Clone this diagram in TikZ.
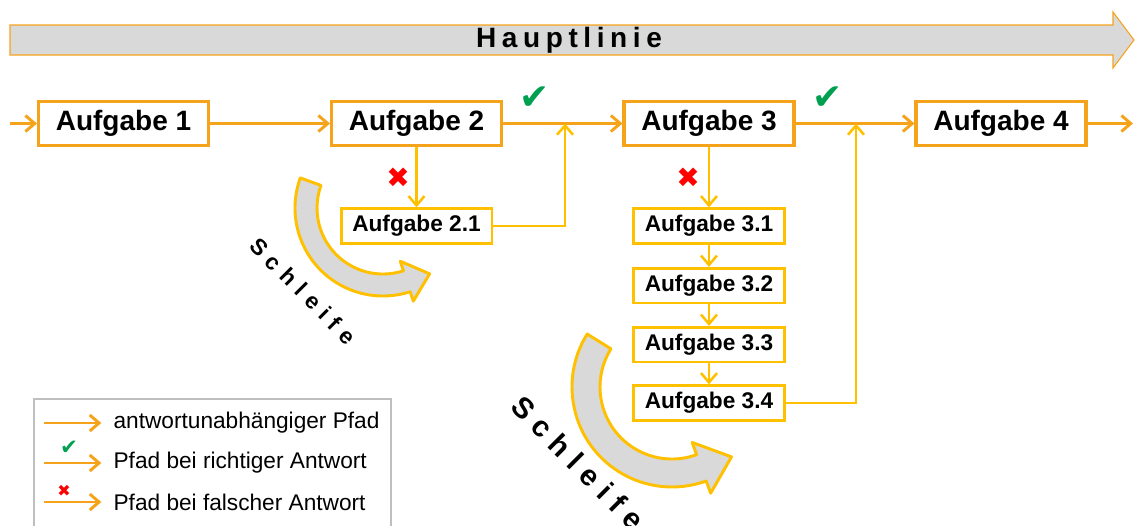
\documentclass[tikz,border=0pt]{standalone}
\usepackage{fontspec}
\setmainfont{Liberation Sans}
\newfontfamily\symfont{DejaVu Sans}
\usepackage{tikz}
\usetikzlibrary{arrows.meta,positioning,calc}
\definecolor{cOr}{HTML}{F4A31B}
\definecolor{cYe}{HTML}{FFC000}
\definecolor{cGy}{HTML}{D9D9D9}
\definecolor{cFr}{HTML}{BFBFBF}
\definecolor{cOk}{HTML}{00A050}
\definecolor{cNo}{HTML}{FF0000}
\definecolor{cInk}{HTML}{000000}

\begin{document}
\begin{tikzpicture}[x=0.75pt,y=-0.75pt,
  >={Straight Barb[length=7pt,width=12pt]},
  mainbox/.style={rectangle, draw=cOr, line width=2.3pt, fill=white, minimum width=127.5pt,
     minimum height=33pt, inner sep=0pt, text=cInk, font=\fontsize{21}{25}\selectfont\bfseries},
  subbox/.style={rectangle, draw=cYe, line width=2pt, fill=white, minimum width=113pt,
     minimum height=26pt, inner sep=0pt, text=cInk, font=\fontsize{17}{20}\selectfont\bfseries},
  flow/.style={->, line width=2.2pt, draw=cOr},
  subflow/.style={->, line width=1.9pt, draw=cYe},
  bendarrow/.style={fill=cGy, draw=cYe, line width=2.2pt, line join=round},
  tickmark/.style={font=\symfont\fontsize{27}{27}\selectfont, text=cOk, inner sep=0pt},
  crossmark/.style={font=\symfont\fontsize{21}{21}\selectfont, text=cNo, inner sep=0pt},
  legtext/.style={font=\fontsize{17}{20}\selectfont, text=cInk, anchor=west, inner sep=4pt},
]
\useasboundingbox (0,0) rectangle (1135,525);

% =================== MAIN LINE ===================
\path[fill=cGy, draw=cOr, line width=0.8pt] (10,25) -- (1113,25) -- (1113,12) -- (1134,40)
  -- (1113,68) -- (1113,55) -- (10,55) -- cycle;
\node[font=\bfseries\fontsize{21}{24}\selectfont\addfontfeature{LetterSpace=20}, text=cInk] (haupt) at (569,40) {Hauptlinie};

% =================== LOOPS ===================
\coordinate (c1) at (383,208);
\path[bendarrow] ($(c1)+(200:88)$) arc[start angle=200, end angle=72, radius=88]
  -- ($(c1)+(72:98)$) -- ($(c1)+(72:77)+(-18:24)$) -- ($(c1)+(72:56)$)
  -- ($(c1)+(72:66)$) arc[start angle=72, end angle=200, radius=66] -- cycle;
\node[font=\bfseries\fontsize{17}{18}\selectfont\addfontfeature{LetterSpace=33}, text=cInk, rotate=-45] (s1) at (303,291) {Schleife};

\coordinate (c2) at (672,387);
\path[bendarrow] ($(c2)+(212:100)$) arc[start angle=212, end angle=70, radius=100]
  -- ($(c2)+(70:113)$) -- ($(c2)+(70:86)+(-20:32)$) -- ($(c2)+(70:59)$)
  -- ($(c2)+(70:72)$) arc[start angle=70, end angle=212, radius=72] -- cycle;
\node[font=\bfseries\fontsize{22}{24}\selectfont\addfontfeature{LetterSpace=30}, text=cInk, rotate=-45] (s2) at (578,463) {Schleife};

% =================== TASKS ===================
\node[mainbox] (a1) at (123.5,123.5) {Aufgabe 1};
\node[mainbox] (a2) at (416.5,123.5) {Aufgabe 2};
\node[mainbox] (a3) at (709,123.5) {Aufgabe 3};
\node[mainbox] (a4) at (1001,123.5) {Aufgabe 4};

\node[subbox] (a21) at (416.5,226) {Aufgabe 2.1};
\node[subbox] (a31) at (709,226) {Aufgabe 3.1};
\node[subbox] (a32) at (709,285.5) {Aufgabe 3.2};
\node[subbox] (a33) at (709,344.5) {Aufgabe 3.3};
\node[subbox] (a34) at (709,403) {Aufgabe 3.4};

\coordinate (in) at (10,123.5);
\coordinate (out) at (1133,123.5);
\coordinate (j2) at (565,123.5);
\coordinate (j3) at (856,123.5);

\draw[flow] (in) -- (a1);
\draw[flow] (a1) -- (a2);
\draw[flow] (a2) -- (a3);
\draw[flow] (a3) -- (a4);
\draw[flow] (a4) -- (out);

\draw[subflow] (a2) -- (a21);
\draw[subflow] (a21) -| (j2);
\draw[subflow] (a3) -- (a31);
\draw[subflow] (a31) -- (a32);
\draw[subflow] (a32) -- (a33);
\draw[subflow] (a33) -- (a34);
\draw[subflow] (a34) -| (j3);

\node[tickmark] (ok2) at (535,98) {✔};
\node[tickmark] (ok3) at (828,98) {✔};
\node[crossmark] (no2) at (398,178) {✖};
\node[crossmark] (no3) at (688,178) {✖};

% =================== LEGEND ===================
\draw[cFr, line width=2pt] (34,399) rectangle (391,540);

\node[legtext] (lt1) at (108,423) {antwortunabhängiger Pfad};
\node[legtext] (lt2) at (108,463) {Pfad bei richtiger Antwort};
\node[legtext] (lt3) at (108,502) {Pfad bei falscher Antwort};
\coordinate (l1) at (44,423);
\coordinate (l2) at (44,463);
\coordinate (l3) at (44,502);
\draw[flow, shorten >=5pt] (l1) -- (lt1);
\draw[flow, shorten >=5pt] (l2) -- (lt2);
\draw[flow, shorten >=5pt] (l3) -- (lt3);
\node[tickmark, font=\symfont\fontsize{16}{16}\selectfont] (lok) at (69,448) {✔};
\node[crossmark, font=\symfont\fontsize{12}{12}\selectfont] (lno) at (64,491) {✖};

\end{tikzpicture}
\end{document}
